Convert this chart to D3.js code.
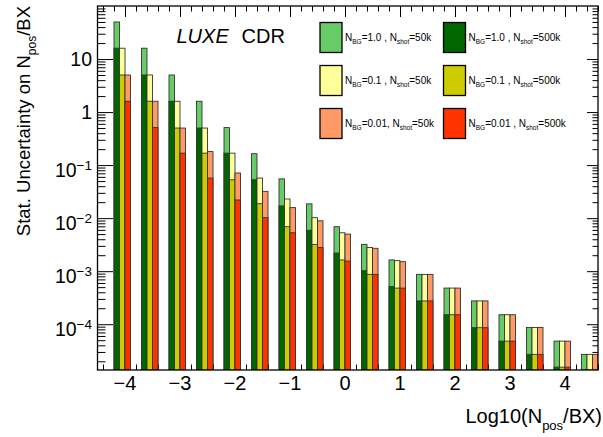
<!DOCTYPE html>
<html><head><meta charset="utf-8">
<script src="https://d3js.org/d3.v7.min.js"></script>
<style>
body{margin:0;background:#fff;}
svg text{font-family:"Liberation Sans",Arial,Helvetica,sans-serif;fill:#000;}
</style></head><body>
<svg id="c" width="603" height="437"></svg>
<script>
const xPositions = [-4,-3.5,-3,-2.5,-2,-1.5,-1,-0.5,0,0.5,1,1.5,2,2.5,3,3.5,4,4.5];
const bg1_50k   = [50, 16, 5.0, 1.6, 0.51, 0.164, 0.055, 0.0186, 0.0069, 0.0032, 0.00163, 0.00087, 0.00048, 0.000275, 0.000151, 0.000087, 0.000048, 0.000027];
const bg1_500k  = [16, 5.0, 1.6, 0.5, 0.168, 0.053, 0.017, 0.0059, 0.0022, 0.00102, 0.00051, 0.000275, 0.000151, 0.000086, 0.000048, 0.000027, 0.0000155, 0.0000086];
const bg01_50k  = [16, 5.0, 1.6, 0.5, 0.168, 0.057, 0.023, 0.0102, 0.0053, 0.0028, 0.00158, 0.00087, 0.00048, 0.000275, 0.000151, 0.000087, 0.000048, 0.000027];
const bg01_500k = [5.0, 1.6, 0.5, 0.168, 0.053, 0.0187, 0.0069, 0.0032, 0.00163, 0.00087, 0.00048, 0.000275, 0.000151, 0.000086, 0.000048, 0.000027, 0.0000155, 0.0000086];
const bg001_50k = [5.0, 1.6, 0.5, 0.18, 0.071, 0.032, 0.0158, 0.0089, 0.0050, 0.0027, 0.00151, 0.00087, 0.00048, 0.000275, 0.000151, 0.000087, 0.000048, 0.000027];
const bg001_500k = [1.6, 0.51, 0.168, 0.057, 0.022, 0.0102, 0.0053, 0.0028, 0.00155, 0.00087, 0.00048, 0.000275, 0.000151, 0.000086, 0.000048, 0.000027, 0.0000155, 0.0000086];

const xMajorTicks = [-4, -3, -2, -1, 0, 1, 2, 3, 4];
const yMajorTicks = [1e-4, 1e-3, 1e-2, 1e-1, 1, 10];
const yTickExponents = [-4, -3, -2, -1, 0, 1];

const legendBG = ["1.0", "1.0", "0.1", "0.1", "0.01", "0.01"];
const legendSpaceBeforeComma = [true, true, true, true, false, true];
const legendShot = ["50k", "500k", "50k", "500k", "50k", "500k"];
const legendColor = ["#66cc66", "#006600", "#ffff99", "#cccc00", "#ff9966", "#ff3300"];

const MINUS = String.fromCharCode(8722);
const L = 97.5, R = 598, T = 6, B = 370;
const YMIN = 1.37e-5;
const svg = d3.select("#c");
const x = d3.scaleLinear().domain([-4.5, 4.6]).range([L, R]);
const y = d3.scaleLog().domain([YMIN, 100]).range([B, T]);

const xMinor = d3.range(-44, 47, 2).map(function(v){return v/10;}).filter(function(v){return Math.abs(v-Math.round(v))>1e-6;});
const yMinor = [];
for (let n = -5; n <= 1; n++) { for (let k = 2; k <= 9; k++) { const v = k*Math.pow(10, n); if (v >= YMIN && v <= 100) yMinor.push(v); } }

function styleAxis(g){ g.select(".domain").remove(); g.selectAll("line").attr("stroke","#000").attr("stroke-width",1); }

svg.append("g").attr("transform","translate(0,"+B+")")
  .call(d3.axisBottom(x).tickValues(xMinor).tickSize(-5.5).tickFormat("")).call(styleAxis);
svg.append("g").attr("transform","translate(0,"+B+")")
  .call(d3.axisBottom(x).tickValues(xMajorTicks).tickSize(-11).tickFormat("")).call(styleAxis);
svg.append("g").attr("transform","translate(0,"+T+")")
  .call(d3.axisTop(x).tickValues(xMinor).tickSize(-5.5).tickFormat("")).call(styleAxis);
svg.append("g").attr("transform","translate(0,"+T+")")
  .call(d3.axisTop(x).tickValues(xMajorTicks).tickSize(-11).tickFormat("")).call(styleAxis);
svg.append("g").attr("transform","translate("+L+",0)")
  .call(d3.axisLeft(y).tickValues(yMinor).tickSize(-8).tickFormat("")).call(styleAxis);
svg.append("g").attr("transform","translate("+L+",0)")
  .call(d3.axisLeft(y).tickValues(yMajorTicks).tickSize(-15.5).tickFormat("")).call(styleAxis);
svg.append("g").attr("transform","translate("+R+",0)")
  .call(d3.axisRight(y).tickValues(yMinor).tickSize(-5.5).tickFormat("")).call(styleAxis);
svg.append("g").attr("transform","translate("+R+",0)")
  .call(d3.axisRight(y).tickValues(yMajorTicks).tickSize(-11).tickFormat("")).call(styleAxis);

const slots = [
  {off:-0.2, light:bg1_50k,   dark:bg1_500k,   lc:legendColor[0], dc:legendColor[1]},
  {off:-0.1, light:bg01_50k,  dark:bg01_500k,  lc:legendColor[2], dc:legendColor[3]},
  {off: 0.0, light:bg001_50k, dark:bg001_500k, lc:legendColor[4], dc:legendColor[5]}
];
const barW = 0.1;
svg.append("clipPath").attr("id","clip").append("rect").attr("x",L).attr("y",T).attr("width",R-L).attr("height",B-T);
const gb = svg.append("g").attr("clip-path","url(#clip)");
slots.forEach(function(s){
  ["light","dark"].forEach(function(kind){
    const vals = s[kind];
    const rows = xPositions.map(function(p,i){ return {p:p, v:vals[i]}; }).filter(function(d){ return d.v > YMIN; });
    gb.selectAll(null).data(rows).enter().append("rect")
      .attr("x",function(d){return x(d.p+s.off);})
      .attr("width",function(d){return x(d.p+s.off+barW)-x(d.p+s.off);})
      .attr("y",function(d){return y(d.v);})
      .attr("height",function(d){return B-y(d.v);})
      .attr("fill",kind==="light"?s.lc:s.dc)
      .attr("stroke","#333").attr("stroke-width",0.9);
  });
});

svg.append("rect").attr("x",L).attr("y",T).attr("width",R-L).attr("height",B-T)
  .attr("fill","none").attr("stroke","#000").attr("stroke-width",1.3);

svg.append("g").selectAll("text").data(xMajorTicks).enter().append("text")
  .attr("x",function(d){return x(d);}).attr("y",B+19.5).attr("text-anchor","middle")
  .style("font-size","20px").text(function(d){return d3.format("")(d);});

yMajorTicks.forEach(function(t,i){
  const e = yTickExponents[i];
  const hasExp = e < 0;
  const tx = svg.append("text").attr("x",92).attr("y",y(t)+(hasExp?11.5:7))
    .attr("text-anchor","end").style("font-size","19.5px");
  tx.append("tspan").text(e === 0 ? "1" : "10");
  if (hasExp) tx.append("tspan").attr("dy",-6.5).style("font-size","13.5px").text(MINUS + String(-e));
});

const xt = svg.append("text").attr("x",602).attr("y",423).attr("text-anchor","end").style("font-size","20px");
xt.append("tspan").text("Log10(N");
xt.append("tspan").attr("dy",6.5).style("font-size","13px").text("pos");
xt.append("tspan").attr("dy",-6.5).text("/BX)");

const yt = svg.append("text").attr("transform","translate(30,6) rotate(-90)").attr("text-anchor","end").style("font-size","18.5px");
yt.append("tspan").text("Stat. Uncertainty on N");
yt.append("tspan").attr("dy",6).style("font-size","12px").text("pos");
yt.append("tspan").attr("dy",-6).text("/BX");

svg.append("text").attr("x",176.5).attr("y",43).style("font-size","20px").style("font-style","italic").text("LUXE");
svg.append("text").attr("x",241.5).attr("y",43).style("font-size","20px").text("CDR");

const colX = [320, 443.5], rowY = [22.5, 65.5, 108.5];
legendColor.forEach(function(c,i){
  const col = i%2, row = Math.floor(i/2);
  const bx = colX[col], by = rowY[row];
  svg.append("rect").attr("x",bx).attr("y",by).attr("width",22).attr("height",30)
    .attr("fill",c).attr("stroke","#000").attr("stroke-width",1.3);
  const t = svg.append("text").attr("x",bx+25).attr("y",by+18.5).style("font-size","10px");
  t.append("tspan").text("N");
  t.append("tspan").attr("dy",2.5).style("font-size","6.5px").text("BG");
  t.append("tspan").attr("dy",-2.5).text("=" + legendBG[i] + (legendSpaceBeforeComma[i] ? " " : "") + String.fromCharCode(44) + " N");
  t.append("tspan").attr("dy",2.5).style("font-size","6.5px").text("shot");
  t.append("tspan").attr("dy",-2.5).text("=" + legendShot[i]);
});
</script>
</body></html>
